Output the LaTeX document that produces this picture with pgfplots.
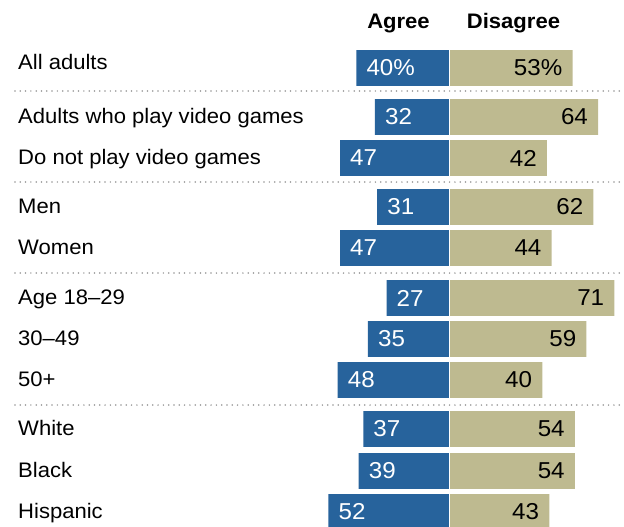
\documentclass[border=0pt]{standalone}
\usepackage{pgfplots}
\pgfplotsset{compat=1.18}
\usepackage{pgfplotstable}
\usepackage{fontspec}
\setmainfont{Liberation Sans}[FakeStretch=1.05]

\definecolor{agreeblue}{HTML}{27639C}
\definecolor{disagreetan}{HTML}{BEBA90}
\definecolor{sepgray}{HTML}{959595}
\newcommand\lab{\fontsize{21}{25}\selectfont}
\newcommand\val{\fontsize{23}{27}\selectfont}

% y = row centre (px from top), agree / disagree in percent
\pgfplotstableread{
y   agree dis alab    dlab
68  40    53  {40\%}  {53\%}
117 32    64  32      64
158 47    42  47      42
207 31    62  31      62
248 47    44  47      44
298 27    71  27      71
339 35    59  35      59
380 48    40  48      40
429 37    54  37      54
471 39    54  39      54
512 52    43  52      43
}\data

\begin{document}
\begin{tikzpicture}
\begin{axis}[
  scale only axis, width=624pt, height=527pt,
  xmin=-193.25, xmax=75.14, ymin=0, ymax=527, y dir=reverse,
  hide axis, xbar, bar width=35.7pt,
  point meta=explicit symbolic,
]
\path (rel axis cs:0,0) rectangle (rel axis cs:1,1);
\addplot[fill=agreeblue, draw=none, bar shift=0pt,
  nodes near coords,
  nodes near coords style={anchor=west, xshift=10pt, inner sep=0pt, text=white, font=\val}]
  table[x expr=-\thisrow{agree}, y=y, meta=alab]{\data};
\addplot[fill=disagreetan, draw=none, bar shift=0pt,
  nodes near coords,
  nodes near coords style={anchor=east, xshift=-10pt, inner sep=0pt, text=black, font=\val}]
  table[x=dis, y=y, meta=dlab]{\data};

\draw[white, line width=1.3pt] (axis cs:0,40) -- (axis cs:0,527);

\pgfplotsinvokeforeach{91,182,273,405}{
  \draw[sepgray, line width=1.7pt, dash pattern=on 0pt off 5.3pt, line cap=round]
    (axis cs:-186.8,#1) -- (axis cs:75.14,#1);
}

\node[anchor=base, font=\bfseries\lab] at (axis cs:-21.85,28.3) {Agree};
\node[anchor=base, font=\bfseries\lab] at (axis cs:27.6,28.3) {Disagree};

\node[anchor=base west, font=\lab, inner sep=0pt] at (axis cs:-185.5,69.5) {All adults};
\node[anchor=base west, font=\lab, inner sep=0pt] at (axis cs:-185.5,123.6) {Adults who play video games};
\node[anchor=base west, font=\lab, inner sep=0pt] at (axis cs:-185.5,164.6) {Do not play video games};
\node[anchor=base west, font=\lab, inner sep=0pt] at (axis cs:-185.5,213.8) {Men};
\node[anchor=base west, font=\lab, inner sep=0pt] at (axis cs:-185.5,254.8) {Women};
\node[anchor=base west, font=\lab, inner sep=0pt] at (axis cs:-185.5,304.8) {Age 18–29};
\node[anchor=base west, font=\lab, inner sep=0pt] at (axis cs:-185.5,345.8) {30–49};
\node[anchor=base west, font=\lab, inner sep=0pt] at (axis cs:-185.5,386.8) {50+};
\node[anchor=base west, font=\lab, inner sep=0pt] at (axis cs:-185.5,435.8) {White};
\node[anchor=base west, font=\lab, inner sep=0pt] at (axis cs:-185.5,477.8) {Black};
\node[anchor=base west, font=\lab, inner sep=0pt] at (axis cs:-185.5,518.8) {Hispanic};
\end{axis}
\end{tikzpicture}
\end{document}
